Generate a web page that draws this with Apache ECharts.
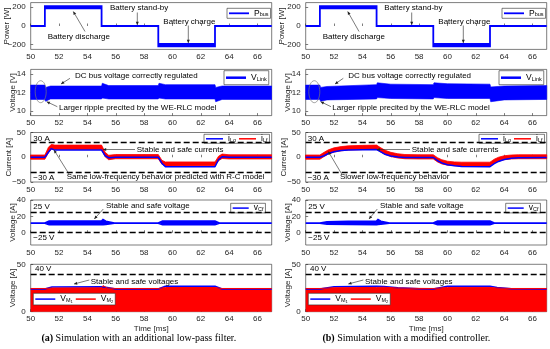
<!DOCTYPE html>
<html><head><meta charset="utf-8">
<script src="https://cdn.jsdelivr.net/npm/echarts@6/dist/echarts.min.js"></script>
<style>html,body{margin:0;padding:0;background:#fff}#c{width:550px;height:349px}</style>
</head><body><div id="c"></div>
<script>
// ---------------- DATA ----------------
const xTicks = [50, 52, 54, 56, 58, 60, 62, 64, 66];
const yTicksPower = [-200, 0, 200];
const yTicksLink = [10, 12, 14];
const yTicksCurrent = [-50, 0, 50];
const yTicksCf = [0, 20, 40];
const yTicksM = [0, 50];
const currentLimits = [30, -30];
const vCfLimits = [25, 0];
const vMLimits = [40];

// Row 1: bus power (both simulations)
const pBusT  = [50, 51, 51, 55, 55, 59, 59, 63, 63, 67];
const pBusLo = [0, 0, 188, 188, 0, 0, -218, -218, 0, 0];
const pBusHi = [0, 0, 212, 212, 0, 0, -192, -192, 0, 0];

// Row 2: DC link voltage envelope
const vLinkT_a  = [50, 51, 51.05, 51.4, 55, 55.05, 55.5, 59, 59.05, 59.5, 63, 63.05, 63.5, 67];
const vLinkHi_a = [12.8, 12.8, 12.55, 12.7, 12.7, 13.0, 12.75, 12.75, 13.0, 12.85, 12.85, 12.55, 12.7, 12.7];
const vLinkLo_a = [11.25, 11.25, 11.05, 11.3, 11.3, 11.4, 11.3, 11.3, 11.4, 11.3, 11.3, 11.0, 11.25, 11.25];
const vLinkT_b  = [50, 51, 51.05, 51.5, 55, 55.05, 56, 59, 59.05, 60, 63, 63.05, 64, 67];
const vLinkHi_b = [12.8, 12.8, 12.55, 12.65, 12.85, 13.05, 12.9, 12.85, 13.05, 12.95, 12.9, 12.6, 12.7, 12.75];
const vLinkLo_b = [11.25, 11.25, 11.05, 11.2, 11.3, 11.45, 11.35, 11.3, 11.45, 11.35, 11.35, 11.0, 11.2, 11.25];

// Row 3: currents
const iT_a    = [50, 51, 51.25, 51.45, 51.7, 55, 55.25, 55.5, 56, 59, 59.25, 59.5, 63, 63.25, 63.5, 64, 67];
const iLfHi_a = [4.5, 4.5, 20, 26, 24.5, 24.5, 10, 4, 5.5, 5.5, -6, -9.5, -9.5, 2, 6.5, 5, 5];
const iLfLo_a = [-4, -4, 9, 16, 15.5, 15.5, 1, -5, -3, -3, -14, -17.5, -17, -7, -2.5, -3.5, -3.5];
const iLo_a   = [0, 0, 10, 17.5, 14.5, 14.5, 3, -1, 0, 0, -12, -19, -19, -5, 1, 0, 0];
const iT_b    = [50, 51, 51.3, 51.6, 52, 52.5, 53, 54, 55, 55.3, 55.6, 56, 56.5, 57, 58, 59, 59.3, 59.6, 60, 60.5, 61, 63, 63.3, 63.6, 64, 64.5, 65, 67];
const iLfHi_b = [4.5, 4.5, 10, 15, 19, 21.5, 23, 24, 24.5, 19, 14, 10, 7, 5.5, 5, 5, -1, -5, -8, -9.5, -10, -10, -4, 0, 3, 4.5, 5, 5];
const iLfLo_b = [-4, -4, 1.5, 6.5, 10.5, 13, 14.5, 15.5, 16, 10.5, 5.5, 1.5, -1.5, -3, -3.5, -3.5, -9.5, -13.5, -16, -17, -17.5, -17.5, -12, -8, -5, -3.5, -3, -3];
const iLo_b   = [0, 0, 3, 7.5, 11, 13.5, 14.5, 15, 15.5, 11, 6, 2.5, 0.5, -0.5, -0.5, -0.5, -7, -11.5, -15, -17, -18.5, -19, -13, -8.5, -4.5, -2, -1, -0.5];

// Row 4: filter capacitor voltage envelope
const vCfT_a  = [50, 51, 51.3, 55, 55.1, 55.3, 55.9, 59, 59.3, 63, 63.3, 67];
const vCfLo_a = [11.8, 11.8, 9.8, 9.8, 10, 10.2, 11.8, 11.8, 10, 10, 11.8, 11.8];
const vCfHi_a = [11.8, 11.8, 14.2, 14.2, 16, 14, 11.8, 11.8, 14, 14, 11.8, 11.8];
const vCfT_b  = [50, 51, 51.5, 53, 55, 55.1, 55.3, 55.9, 59, 59.3, 63, 63.3, 67];
const vCfLo_b = [11.8, 11.8, 10.6, 10.2, 9.8, 10.2, 10.4, 11.8, 11.8, 10, 10, 11.8, 11.8];
const vCfHi_b = [11.8, 11.8, 13.2, 13.7, 14.2, 16, 14, 11.8, 11.8, 14, 14, 11.8, 11.8];

// Row 5: MOSFET voltages
const vMT_a  = [50, 51, 51.5, 55, 55.1, 55.4, 56, 59, 59.5, 63, 63.5, 67];
const vM1_a  = [24, 24, 26, 26.2, 28, 25.5, 24, 24, 26.8, 26.8, 24, 24];
const vM2_a  = [24.5, 24.5, 25, 25.2, 27.5, 25, 24.5, 24.5, 25.5, 25.5, 24.5, 24.5];
const vMT_b  = [50, 51, 52, 55, 55.1, 55.5, 56.5, 58, 59, 60, 63, 63.5, 64.5, 67];
const vM1_b  = [24, 24, 26.3, 26.8, 28.5, 26.5, 25.2, 24.3, 24, 26.8, 26.8, 25.5, 24.2, 24];
const vM2_b  = [24.5, 24.5, 25.3, 25.6, 27, 25.8, 25, 24.6, 24.5, 25.6, 25.6, 25, 24.5, 24.5];

// ---------------- STYLE / LAYOUT ----------------
const FONT = 'Liberation Sans';
const AX = '#262626';
const BLUE = '#0000ff', RED = '#ff0000';
const colX = [30.7, 305.7];
const plotW = 241;
const rows = [
  {top: 2.6, h: 46.8, min: -250, max: 250, ticks: yTicksPower, name: 'Power [W]', gap: 20},
  {top: 69.4, h: 46.2, min: 9.5, max: 14.5, ticks: yTicksLink, name: 'Voltage [V]', gap: 13.5},
  {top: 132.5, h: 49.5, min: -50, max: 50, ticks: yTicksCurrent, name: 'Current [A]', gap: 18},
  {top: 200, h: 45, min: -15, max: 40, ticks: yTicksCf, name: 'Voltage [A]', gap: 13.5},
  {top: 264.3, h: 47.4, min: 0, max: 50, ticks: yTicksM, name: 'Voltage [A]', gap: 13.5}
];

const grids = [], xAxes = [], yAxes = [];
for (let c = 0; c < 2; c++) {
  rows.forEach((r, ri) => {
    grids.push({left: colX[c], top: r.top, width: plotW, height: r.h, show: true,
      borderColor: AX, borderWidth: 0.6, backgroundColor: '#fff', containLabel: false, outerBoundsMode: 'none'});
    const gi = grids.length - 1;
    xAxes.push({gridIndex: gi, type: 'value', min: 50, max: 67,
      axisLine: {show: false}, splitLine: {show: false},
      axisTick: {inside: true, length: 2.5, customValues: xTicks, lineStyle: {color: AX, width: 0.6}},
      axisLabel: {customValues: xTicks, fontFamily: FONT, fontSize: 8, color: AX, margin: 3.5},
      name: ri === 4 ? 'Time [ms]' : '', nameLocation: 'middle', nameGap: 13, nameMoveOverlap: false,
      nameTextStyle: {fontFamily: FONT, fontSize: 8, color: AX}});
    yAxes.push({gridIndex: gi, type: 'value', min: r.min, max: r.max,
      axisLine: {show: false}, splitLine: {show: false},
      axisTick: {inside: true, length: 2.5, customValues: r.ticks, lineStyle: {color: AX, width: 0.6}},
      axisLabel: {customValues: r.ticks, fontFamily: FONT, fontSize: 8, color: AX, margin: 5,
        formatter: v => String(v).replace('-', '\u2212')},
      name: r.name, nameLocation: 'middle', nameGap: r.gap, nameMoveOverlap: false,
      nameTextStyle: {fontFamily: FONT, fontSize: 8, color: AX}});
  });
}

function band(name, gi, T, Lo, Hi, color, sw) {
  return {
    type: 'custom', name, xAxisIndex: gi, yAxisIndex: gi, clip: true, silent: true,
    data: T.map((t, i) => [t, Lo[i], Hi[i]]),
    encode: {x: 0, y: [1, 2]},
    itemStyle: {color},
    renderItem(params, api) {
      if (params.dataIndexInside !== 0) return null;
      const n = params.dataInsideLength;
      const up = [], dn = [];
      for (let i = 0; i < n; i++) {
        const t = api.value(0, i);
        up.push(api.coord([t, api.value(2, i)]));
        dn.push(api.coord([t, api.value(1, i)]));
      }
      return {type: 'polygon', shape: {points: up.concat(dn.reverse())},
        style: {fill: color, stroke: sw ? color : null, lineWidth: sw || 0}};
    }
  };
}
function line(name, gi, T, V, color, w, extra) {
  return Object.assign({type: 'line', name, xAxisIndex: gi, yAxisIndex: gi, silent: true,
    data: T.map((t, i) => [t, V[i]]), symbol: 'none', clip: true,
    lineStyle: {color, width: w}, itemStyle: {color}}, extra || {});
}
function dashed(vals) {
  return {silent: true, symbol: ['none', 'none'], label: {show: false}, animation: false,
    lineStyle: {type: [6, 3], color: '#000', width: 1.3},
    data: vals.map(v => ({yAxis: v}))};
}

const sets = [
  {s: 'a', vLinkT: vLinkT_a, vLinkHi: vLinkHi_a, vLinkLo: vLinkLo_a, iT: iT_a, iLfHi: iLfHi_a, iLfLo: iLfLo_a, iLo: iLo_a,
   vCfT: vCfT_a, vCfLo: vCfLo_a, vCfHi: vCfHi_a, vMT: vMT_a, vM1: vM1_a, vM2: vM2_a},
  {s: 'b', vLinkT: vLinkT_b, vLinkHi: vLinkHi_b, vLinkLo: vLinkLo_b, iT: iT_b, iLfHi: iLfHi_b, iLfLo: iLfLo_b, iLo: iLo_b,
   vCfT: vCfT_b, vCfLo: vCfLo_b, vCfHi: vCfHi_b, vMT: vMT_b, vM1: vM1_b, vM2: vM2_b}
];
const series = [];
const labelMap = {};
sets.forEach((d, c) => {
  const g = c * 5;
  series.push(band('Pbus_' + d.s, g, pBusT, pBusLo, pBusHi, BLUE, 1.8));
  series.push(band('VLink_' + d.s, g + 1, d.vLinkT, d.vLinkLo, d.vLinkHi, BLUE, 0.6));
  series.push(line('iLo_' + d.s, g + 2, d.iT, d.iLo, BLUE, 1.5, {markLine: dashed(currentLimits)}));
  series.push(band('iLf_' + d.s, g + 2, d.iT, d.iLfLo, d.iLfHi, RED, 0.8));
  const cf = band('vCf_' + d.s, g + 3, d.vCfT, d.vCfLo, d.vCfHi, BLUE, 1.8);
  cf.markLine = dashed(vCfLimits);
  series.push(cf);
  series.push(line('vM1_' + d.s, g + 4, d.vMT, d.vM1, BLUE, 1.5, {markLine: dashed(vMLimits)}));
  series.push(line('vM2_' + d.s, g + 4, d.vMT, d.vM2, RED, 1, {areaStyle: {color: RED, opacity: 1}}));
  labelMap['Pbus_' + d.s] = '{m|P}{s|bus}';
  labelMap['VLink_' + d.s] = '{m|V}{s|Link}';
  labelMap['iLo_' + d.s] = '{m|i}{s|Lo}';
  labelMap['iLf_' + d.s] = '{m|i}{s|Lf}';
  labelMap['vCf_' + d.s] = '{m|v}{s|Cf}';
  labelMap['vM1_' + d.s] = '{m|V}{s|M}{ss|1}';
  labelMap['vM2_' + d.s] = '{m|V}{s|M}{ss|2}';
});

const legTxt = {fontFamily: FONT, fontSize: 8, color: '#000',
  rich: {m: {fontFamily: FONT, fontSize: 8.5, lineHeight: 9, color: '#000'},
         s: {fontFamily: FONT, fontSize: 5.5, lineHeight: 5.5, verticalAlign: 'bottom', color: '#000'},
         ss: {fontFamily: FONT, fontSize: 4, lineHeight: 4, verticalAlign: 'bottom', color: '#000'}}};
function legend(names, left, top, iw, ih, pad, gap) {
  return {left, top, orient: 'horizontal', selectedMode: false,
    data: names.map(n => ({name: n, icon: 'rect'})), itemWidth: iw, itemHeight: ih, itemGap: gap || 4,
    padding: pad, borderColor: AX, borderWidth: 0.6, borderRadius: 0, backgroundColor: '#fff',
    textStyle: legTxt, formatter: n => labelMap[n]};
}
const legends = [];
[['a', 0], ['b', 275]].forEach(([s, dx]) => {
  legends.push(legend(['Pbus_' + s], 227 + dx, 8.3, 20, 1.8, [0.5, 2, 0.5, 2]));
  legends.push(legend(['VLink_' + s], 224 + dx, 70.7, 20, 2.5, [2.5, 2, 2.5, 2]));
  legends.push(legend(['iLo_' + s, 'iLf_' + s], 204 + dx, 134.3, 17, 1.5, [0, 2, 0, 2], 3));
  legends.push(legend(['vCf_' + s], 230.7 + dx, 203.3, 16, 1.5, [0.3, 2, 0.3, 2]));
  legends.push(legend(['vM1_' + s, 'vM2_' + s], 33.3 + dx, 293.3, 20, 1.5, [1.3, 2, 1.3, 2], 3));
});

// ---------------- ANNOTATIONS ----------------
const texts = [
  ['Battery stand-by', 110, 7.5], ['Battery discharge', 47.7, 36.7], ['Battery charge', 163.3, 21.7],
  ['DC bus voltage correctly regulated', 75, 76], ['Larger ripple precited by the WE-RLC model', 59, 107.3],
  ['30 A', 33.3, 139], ['\u221230 A', 33.3, 177.3], ['Stable and safe currents', 136.7, 150],
  ['Same low-frequency behavior predicted with R-C model', 66.7, 176.7],
  ['25 V', 33.3, 206.7], ['\u221225 V', 33.3, 237.7], ['Stable and safe voltage', 106, 205.7],
  ['40 V', 35, 269], ['Stable and safe voltages', 90.7, 281.7],
  ['Battery stand-by', 384.3, 7.5], ['Battery discharge', 322.7, 36.7], ['Battery charge', 438.3, 21.7],
  ['DC bus voltage correctly regulated', 348.3, 76], ['Larger ripple precited by the WE-RLC model', 332.3, 107.3],
  ['30 A', 307.7, 139], ['\u221230 A', 307.7, 177.3], ['Stable and safe currents', 411.7, 150],
  ['Slower low-frequency behavior', 340, 176.7],
  ['25 V', 308.3, 206.7], ['\u221225 V', 308.3, 237.7], ['Stable and safe voltage', 380, 205.7],
  ['40 V', 310, 269], ['Stable and safe voltages', 365, 281.7]
];
const arrows = [
  [137.3, 12.5, 137.3, 25], [85, 31.5, 73.3, 11.5], [188.3, 25.5, 188.3, 43],
  [70, 78.3, 61, 84], [57.3, 106.7, 46.7, 101.7],
  [135, 149.5, 103, 149.5], [69, 174, 54, 150],
  [103.3, 209, 94.3, 219], [89.3, 280, 74, 284],
  [411.7, 12.5, 411.7, 25], [359, 31.5, 347.7, 11.5], [463.3, 25.5, 463.3, 43],
  [343.3, 78.3, 335, 84], [331, 106.7, 320.7, 101.7],
  [410, 149.5, 376.7, 149.5], [341.7, 174, 328.3, 151.5],
  [377.3, 209, 369, 219], [363.3, 280, 348.3, 284]
];
const graphics = [];
texts.forEach(([t, x, y]) => graphics.push({type: 'text', x, y, z: 100, silent: true,
  style: {text: t, fontFamily: FONT, fontSize: 8, fill: '#000', align: 'left', verticalAlign: 'middle'}}));
arrows.forEach(([x1, y1, x2, y2]) => {
  graphics.push({type: 'line', z: 100, silent: true, shape: {x1, y1, x2, y2}, style: {stroke: '#222', lineWidth: 0.6}});
  const dx = x2 - x1, dy = y2 - y1, L = Math.hypot(dx, dy), ux = dx / L, uy = dy / L;
  const hl = 3.2, hw = 1.5;
  const bx = x2 - ux * hl, by = y2 - uy * hl;
  graphics.push({type: 'polygon', z: 100, silent: true,
    shape: {points: [[x2, y2], [bx - uy * hw, by + ux * hw], [bx + uy * hw, by - ux * hw]]},
    style: {fill: '#222'}});
});
[[40.7, 91.7], [314.3, 91.7]].forEach(([cx, cy]) => graphics.push({type: 'ellipse', z: 100, silent: true,
  shape: {cx, cy, rx: 5.5, ry: 11}, style: {fill: null, stroke: '#777', lineWidth: 0.7}}));
[['(a)', ' Simulation with an additional low-pass filter.', 138.8], ['(b)', ' Simulation with a modified controller.', 406.3]]
  .forEach(([b, t, x]) => graphics.push({type: 'text', x, y: 338.3, silent: true,
    style: {text: '{b|' + b + '}{n|' + t + '}', align: 'center', verticalAlign: 'middle',
      rich: {b: {fontFamily: 'Liberation Serif', fontSize: 10, fontWeight: 'bold', fill: '#000'},
             n: {fontFamily: 'Liberation Serif', fontSize: 10, fill: '#000'}}}}));

const chart = echarts.init(document.getElementById('c'), null, {renderer: 'canvas', width: 550, height: 349});
chart.setOption({
  animation: false,
  backgroundColor: '#fff',
  grid: grids, xAxis: xAxes, yAxis: yAxes,
  legend: legends,
  series,
  graphic: graphics
});
</script>
</body></html>
